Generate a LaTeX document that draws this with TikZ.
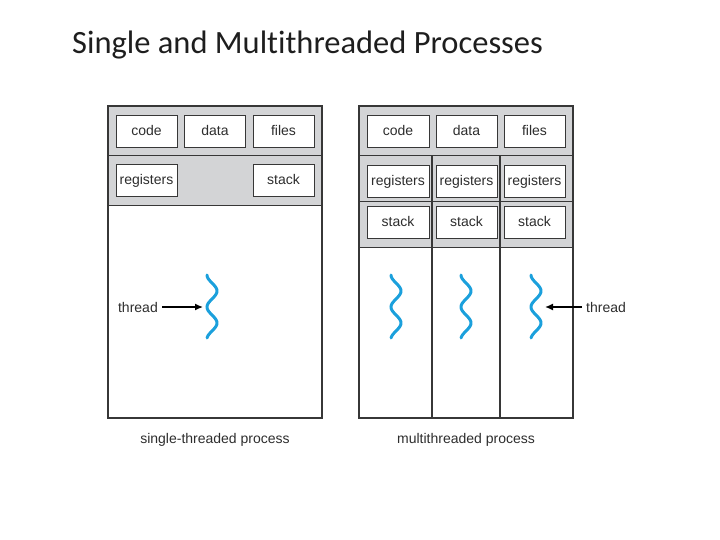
\documentclass[tikz,border=0pt]{standalone}
\usepackage{fontspec}
\usetikzlibrary{arrows.meta}
\setmainfont{Liberation Sans}
\newfontfamily\titlefont[Ligatures=NoCommon]{Carlito}
\definecolor{bandgray}{RGB}{211,212,214}
\definecolor{linecol}{RGB}{55,55,55}
\definecolor{textcol}{RGB}{45,45,45}
\definecolor{thrblue}{RGB}{27,160,220}
\begin{document}
\begin{tikzpicture}[x=1pt,y=-1pt,
  band/.style={fill=bandgray,draw=linecol,line width=1pt},
  frame/.style={draw=linecol,line width=1.3pt},
  cell/.style={draw=linecol,fill=white,line width=1pt,minimum width=61pt,minimum height=32pt,inner sep=0pt,
    text height=10pt,text depth=3pt,
    font=\fontsize{14}{15}\selectfont,text=textcol},
  lbl/.style={font=\fontsize{14}{16}\selectfont,text=textcol,inner sep=1pt},
  ptr/.style={-{Latex[length=8pt,width=7pt]},line width=1.4pt,black},
  thr/.style={draw=thrblue,line width=3pt,line cap=round},
  pics/squig/.style={code={\draw[thr] plot[domain=0:63,samples=70,smooth] ({-5*cos(11.25*\x)},{\x});}}
]
\useasboundingbox (0,0) rectangle (720,540);
% title
\node[anchor=base west,inner sep=0pt,font=\titlefont\fontsize{32.5}{34}\selectfont,text={rgb,255:red,30;green,30;blue,30}] (title) at (72,54) {Single and Multithreaded Processes};

% ---------- single-threaded ----------
\path[band] (108,106) rectangle (322,156);
\path[band] (108,156) rectangle (322,206);
\node[frame,minimum width=214pt,minimum height=312pt,inner sep=0pt] (sp) at (215,262) {};
\node[cell] (scode) at (146.5,132) {code};
\node[cell] (sdata) at (215,132) {data};
\node[cell] (sfiles) at (283.5,132) {files};
\node[cell] (sreg) at (146.5,181) {registers};
\node[cell] (sstack) at (283.5,181) {stack};
\pic at (212,275) {squig};
\coordinate (sthr) at (203,307);
\node[lbl,anchor=east] (sthrlbl) at (159,307) {thread};
\draw[ptr] (sthrlbl.east) ++(3,0) -- (sthr);
\node[lbl] (slabel) at (215,440) {single-threaded process};

% ---------- multithreaded ----------
\path[band] (359,106) rectangle (573,156);
\path[band] (359,156) rectangle (573,202);
\path[band] (359,202) rectangle (573,247);
\draw[line width=1.1pt,draw=linecol] (432,156) -- (432,418) (500,156) -- (500,418);
\node[frame,minimum width=214pt,minimum height=312pt,inner sep=0pt] (mp) at (466,262) {};
\node[cell,minimum width=62pt] (mcode) at (398,132) {code};
\node[cell] (mdata) at (466.5,132) {data};
\node[cell] (mfiles) at (534.5,132) {files};
\node[cell,minimum width=62pt] (mreg1) at (398,182) {registers};
\node[cell] (mreg2) at (466.5,182) {registers};
\node[cell] (mreg3) at (534.5,182) {registers};
\node[cell,minimum width=62pt] (mst1) at (398,222.5) {stack};
\node[cell] (mst2) at (466.5,222.5) {stack};
\node[cell] (mst3) at (534.5,222.5) {stack};
\pic at (396,275) {squig};
\pic at (466,275) {squig};
\pic at (536,275) {squig};
\coordinate (mthr) at (545,307);
\node[lbl,anchor=west] (mthrlbl) at (585,307) {thread};
\draw[ptr] (mthrlbl.west) ++(-3,0) -- (mthr);
\node[lbl] (mlabel) at (466,440) {multithreaded process};
\end{tikzpicture}
\end{document}
